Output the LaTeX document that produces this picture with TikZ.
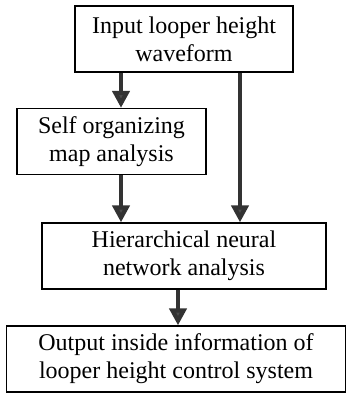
\documentclass[tikz,border=0pt]{standalone}
\usepackage{fontspec}
\setmainfont{Liberation Serif}
\usetikzlibrary{positioning, calc, arrows.meta}

\begin{document}
\begin{tikzpicture}[x=1pt, y=-1pt,
		StepBox/.style={rectangle, draw=black, line width=1.3pt, align=center, inner sep=0pt,
			minimum height=66pt, font=\fontsize{24}{28}\selectfont},
		Flow/.style={line width=4.5pt, draw=black!80, -{Triangle[width=17pt, length=17pt, fill=black!70]}}]

	\useasboundingbox (0,0) rectangle (346,394);

	% Nodes
	\node[StepBox, minimum width=218pt] (Input) at (184,39) {Input looper height\\waveform};
	\node[StepBox, minimum width=189pt] (Som) at (111.5,141.5) {Self organizing\\map analysis};
	\node[StepBox, minimum width=284pt] (Hnn) at (184,256) {Hierarchical neural\\network analysis};
	\node[StepBox, minimum width=339pt] (Output) at (176,359) {Output inside information of\\looper height control system};

	\coordinate (LeftX) at (121,0);
	\coordinate (RightX) at (240,0);
	\coordinate (MidX) at (178,0);

	% Lines
	\draw[Flow] (Input.south -| LeftX) to (Som.north -| LeftX);
	\draw[Flow] (Som.south -| LeftX) to (Hnn.north -| LeftX);
	\draw[Flow] (Input.south -| RightX) to (Hnn.north -| RightX);
	\draw[Flow] (Hnn.south -| MidX) to (Output.north -| MidX);
\end{tikzpicture}
\end{document}
